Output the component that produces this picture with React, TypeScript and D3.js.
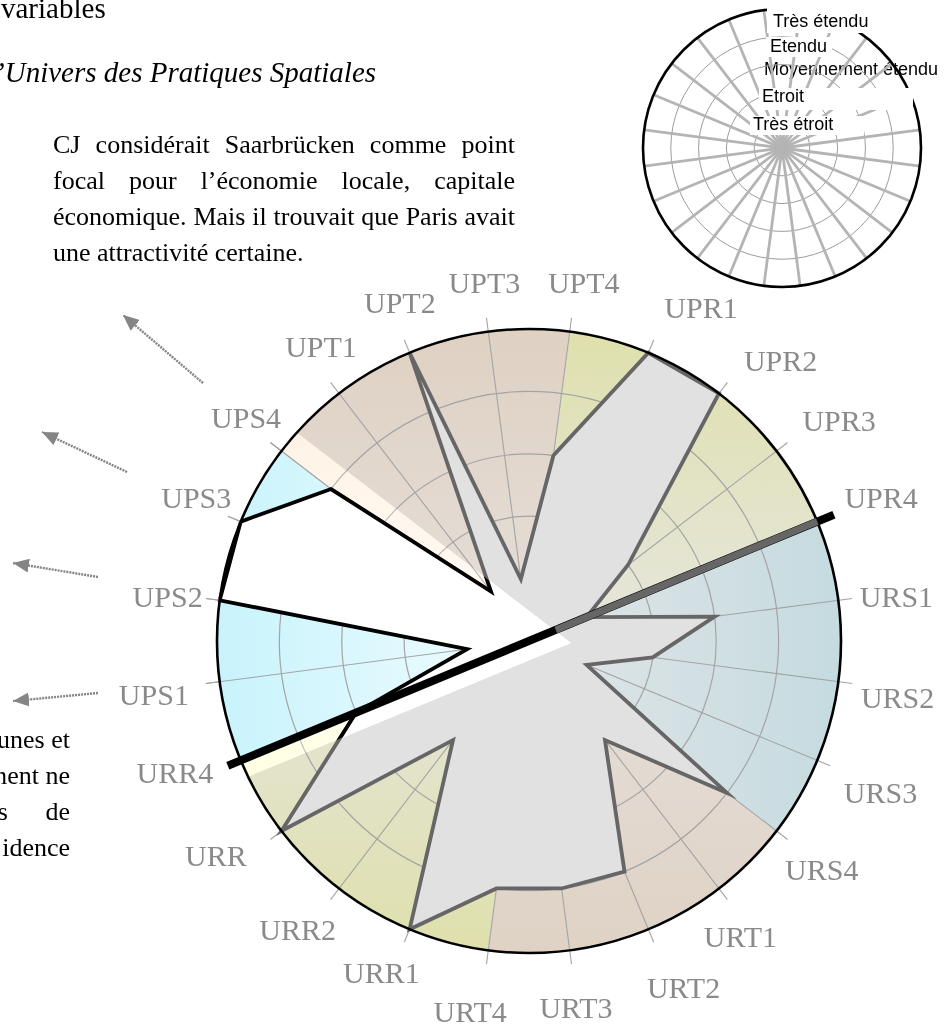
import { useEffect, useRef } from 'react'
import * as d3 from 'd3'

// radar axes, clockwise starting from UPT1
const categories = [
  'UPT1', 'UPT2', 'UPT3', 'UPT4',
  'UPR1', 'UPR2', 'UPR3', 'UPR4',
  'URS1', 'URS2', 'URS3', 'URS4',
  'URT1', 'URT2', 'URT3', 'URT4',
  'URR1', 'URR2', 'URR', 'URR4',
  'UPS1', 'UPS2', 'UPS3', 'UPS4',
]
// 1 = très étroit ... 5 = très étendu
const values = [
  1, 5, 1, 3,
  5, 5, 2, 1,
  3, 2, 1, 4,
  2, 4, 4, 4,
  5, 2, 5, 3,
  1, 5, 5, 4,
]
const groups = ['UPT', 'UPR', 'URS', 'URT', 'URR', 'UPS']
const levels = ['Très étroit', 'Etroit', 'Moyennement étendu', 'Etendu', 'Très étendu']

const headingLines = ['variables', 'l’Univers des Pratiques Spatiales']
const noteLines = [
  'CJ considérait Saarbrücken comme point',
  'focal pour l’économie locale, capitale',
  'économique. Mais il trouvait que Paris avait',
  'une attractivité certaine.',
]
const sideLines = ['unes et', 'ment ne', 's de', 'idence']

// ---- layout / styles ----
const W = 951
const H = 1027
const cx = 529
const cy = 641
const R = 312
const firstAngle = -37.5
const step = 15
const shift = [42, 2] // the UPS layer is pasted slightly off-centre
const serif = "'Liberation Serif', 'Times New Roman', serif"
const sans = "'Liberation Sans', Arial, sans-serif"

// gradient per sector: [near centre, outer edge, direction in deg]
const groupFill = {
  UPT: ['#e5dfda', '#dfd1c3', 0],
  UPR: ['#e6e6de', '#dfe0ac', 0],
  URS: ['#e1e5e6', '#c5dbe0', 90],
  URT: ['#e5dfda', '#dfd2c5', 180],
  URR: ['#e5e5dc', '#dfe0ac', 180],
  UPS: ['#f2fdff', '#c8f3fc', 270],
}
// label placement: [angle nudge (deg), radius]
const labelPlace = [
  [2.2, 360], [1.6, 362], [0.4, 361], [1.2, 362],
  [4.8, 375], [4.5, 376], [2.2, 380], [0.4, 380],
  [0.7, 370], [1.3, 373], [0.9, 383], [0.6, 372],
  [2.0, 364], [-1.5, 380], [0.2, 370], [1.5, 376],
  [1.5, 363], [1.2, 370], [3.0, 380], [2.0, 378],
  [-0.7, 379], [-0.6, 364], [0.7, 362], [0.7, 360],
]
// legend (small reference circle, top right)
const legend = { x: 782, y: 148, r: 139 }
const legendText = [
  { x: 753, y: 130, box: [750, 116, 114, 19] },
  { x: 762, y: 102, box: [759, 88, 154, 22] },
  { x: 764, y: 75, box: null },
  { x: 770, y: 52, box: [766, 37, 66, 20] },
  { x: 773, y: 27, box: [767, 6, 107, 27] },
]
const arrows = [
  [[203, 383], [123, 315]],
  [[127, 472], [42, 432]],
  [[98, 577], [13, 563]],
  [[98, 693], [13, 701]],
]

function draw(svgEl) {
  const svg = d3.select(svgEl)
  svg.selectAll('*').remove()
  const defs = svg.append('defs')

  const rad = (d) => (d * Math.PI) / 180
  const angleOf = (i) => rad(firstAngle + step * i)
  const rScale = d3.scaleLinear().domain([0, levels.length]).range([0, R])
  const at = (a, r, ox = cx, oy = cy) => [ox + r * Math.sin(a), oy - r * Math.cos(a)]
  const wedge = d3.arc().innerRadius(0).outerRadius(R)
  const centre = `translate(${cx},${cy})`

  const chart = svg.append('g')

  // coloured sectors, one per group (gradient coords are local to the translated sector)
  groups.forEach((g, gi) => {
    const a0 = angleOf(gi * 4) - rad(step)
    const a1 = angleOf(gi * 4 + 3)
    const [inner, outer, dir] = groupFill[g]
    const [x2, y2] = at(rad(dir), R, 0, 0)
    const grad = defs.append('linearGradient')
      .attr('id', `fill-${g}`)
      .attr('gradientUnits', 'userSpaceOnUse')
      .attr('x1', 0).attr('y1', 0).attr('x2', x2).attr('y2', y2)
    grad.append('stop').attr('offset', '0%').attr('stop-color', inner)
    grad.append('stop').attr('offset', '100%').attr('stop-color', outer)
    chart.append('path')
      .attr('transform', centre)
      .attr('d', wedge({ startAngle: a0, endAngle: a1 }))
      .attr('fill', `url(#fill-${g})`)
  })

  // grid
  const grid = chart.append('g').attr('stroke', '#a4a4a4').attr('fill', 'none')
  d3.range(1, levels.length).forEach(k => {
    grid.append('circle').attr('cx', cx).attr('cy', cy).attr('r', rScale(k)).attr('stroke-width', 1.2)
  })
  categories.forEach((c, i) => {
    const [x, y] = at(angleOf(i), R + 14)
    grid.append('line').attr('x1', cx).attr('y1', cy).attr('x2', x).attr('y2', y).attr('stroke-width', 1.1)
  })

  // profile polygon
  const radial = d3.lineRadial()
    .angle((d, i) => angleOf(i))
    .radius(d => rScale(d))
    .curve(d3.curveLinearClosed)
  chart.append('path')
    .attr('transform', centre)
    .attr('d', radial(values))
    .attr('fill', '#e1e1e1')
    .attr('stroke', '#666')
    .attr('stroke-width', 3.8)
    .attr('stroke-linejoin', 'miter')
    .attr('stroke-miterlimit', 12)

  // the UPS layer, pasted slightly to the right
  const ox = cx + shift[0]
  const oy = cy + shift[1]
  const u0 = angleOf(20) - rad(step)
  const u1 = angleOf(23)
  function hit(a) {
    const dx = Math.sin(a), dy = -Math.cos(a)
    const fx = ox - cx, fy = oy - cy
    const b = dx * fx + dy * fy
    const c = fx * fx + fy * fy - R * R
    const t = -b + Math.sqrt(b * b - c)
    return [ox + t * dx, oy + t * dy]
  }
  const layerPath = `M${ox},${oy}L${hit(u0)}A${R},${R} 0 0 1 ${hit(u1)}Z`
  defs.append('clipPath').attr('id', 'ups-clip').append('path').attr('d', layerPath)

  chart.append('path')
    .attr('d', layerPath)
    .attr('fill', '#1e1e1e')
    .style('mix-blend-mode', 'color-dodge')

  chart.append('path')
    .attr('transform', centre)
    .attr('d', wedge({ startAngle: u0, endAngle: u1 }))
    .attr('fill', 'url(#fill-UPS)')
  const upsGrid = chart.append('g').attr('stroke', '#a4a4a4').attr('fill', 'none')
  d3.range(1, levels.length).forEach(k => {
    const p = d3.path()
    p.arc(cx, cy, rScale(k), u0 - Math.PI / 2, u1 - Math.PI / 2)
    upsGrid.append('path').attr('d', p.toString()).attr('stroke-width', 1.2)
  })
  d3.range(20, 24).forEach(i => {
    const [x, y] = at(angleOf(i), R + 14)
    upsGrid.append('line').attr('x1', cx).attr('y1', cy).attr('x2', x).attr('y2', y).attr('stroke-width', 1.1)
  })
  chart.append('g')
    .attr('clip-path', 'url(#ups-clip)')
    .append('path')
    .attr('transform', centre)
    .attr('d', radial(values))
    .attr('fill', '#fff')
    .attr('stroke', '#000')
    .attr('stroke-width', 3.8)
    .attr('stroke-linejoin', 'miter')
    .attr('stroke-miterlimit', 12)

  // rim
  chart.append('circle')
    .attr('cx', cx).attr('cy', cy).attr('r', R)
    .attr('fill', 'none').attr('stroke', '#000').attr('stroke-width', 2.6)

  // dividing line UPR4 / URR4
  const [lx1, ly1] = at(angleOf(19), R + 14)
  const [lx2, ly2] = at(angleOf(7), R + 18)
  chart.append('line')
    .attr('x1', lx1).attr('y1', ly1).attr('x2', lx2).attr('y2', ly2)
    .attr('stroke', '#000').attr('stroke-width', 8)
  const [gx1, gy1] = at(angleOf(7), 29)
  const [gx2, gy2] = at(angleOf(7), R)
  chart.append('line')
    .attr('x1', gx1).attr('y1', gy1).attr('x2', gx2).attr('y2', gy2)
    .attr('stroke', '#666').attr('stroke-width', 7)

  // axis labels
  chart.append('g')
    .selectAll('text')
    .data(categories)
    .join('text')
    .attr('x', (d, i) => at(angleOf(i) + rad(labelPlace[i][0]), labelPlace[i][1])[0])
    .attr('y', (d, i) => at(angleOf(i) + rad(labelPlace[i][0]), labelPlace[i][1])[1])
    .attr('dy', '0.33em')
    .attr('text-anchor', 'middle')
    .attr('font-family', serif)
    .attr('font-size', 30)
    .attr('fill', '#8a8a8a')
    .text(d => d)

  // ---- surrounding document text ----
  const doc = svg.append('g').attr('font-family', serif).attr('fill', '#000')
  doc.append('text').attr('x', 1).attr('y', 18).attr('font-size', 29).text(headingLines[0])
  doc.append('text').attr('x', -13).attr('y', 82).attr('font-size', 29)
    .attr('font-style', 'italic').text(headingLines[1])

  const noteWidth = 462
  noteLines.forEach((line, i) => {
    const t = doc.append('text').attr('x', 53).attr('y', 153 + 36 * i).attr('font-size', 26).text(line)
    if (i < noteLines.length - 1) {
      const w = t.node().getComputedTextLength()
      const gaps = line.split(' ').length - 1
      t.style('word-spacing', `${(noteWidth - w) / gaps}px`)
    }
  })
  sideLines.forEach((line, i) => {
    doc.append('text')
      .attr('x', 70).attr('y', 748 + 36 * i)
      .attr('font-size', 26)
      .attr('text-anchor', 'end')
      .style('word-spacing', i === 2 ? '31px' : '0px')
      .text(line)
  })

  // dotted arrows
  defs.append('marker')
    .attr('id', 'head')
    .attr('markerUnits', 'userSpaceOnUse')
    .attr('viewBox', '0 0 16 14')
    .attr('markerWidth', 16).attr('markerHeight', 14)
    .attr('refX', 16).attr('refY', 7)
    .attr('orient', 'auto')
    .append('path').attr('d', 'M0,0L16,7L0,14Z').attr('fill', '#858585')
  arrows.forEach(([from, to]) => {
    svg.append('line')
      .attr('x1', from[0]).attr('y1', from[1]).attr('x2', to[0]).attr('y2', to[1])
      .attr('stroke', '#858585').attr('stroke-width', 2.4)
      .attr('stroke-dasharray', '2,1')
      .attr('marker-end', 'url(#head)')
  })

  // ---- legend ----
  const lg = svg.append('g')
  const lScale = d3.scaleLinear().domain([0, levels.length]).range([0, legend.r])
  const lat = (a, r) => at(a, r, legend.x, legend.y)
  lg.append('text')
    .attr('x', legendText[2].x).attr('y', legendText[2].y)
    .attr('font-family', sans).attr('font-size', 18)
    .text(levels[2])
  d3.range(1, levels.length).forEach(k => {
    lg.append('circle').attr('cx', legend.x).attr('cy', legend.y).attr('r', lScale(k))
      .attr('fill', 'none').attr('stroke', '#9c9c9c').attr('stroke-width', 1)
  })
  categories.forEach((c, i) => {
    const [x, y] = lat(angleOf(i), legend.r)
    lg.append('line').attr('x1', legend.x).attr('y1', legend.y).attr('x2', x).attr('y2', y)
      .attr('stroke', '#b4b4b4').attr('stroke-width', 2.8)
  })
  lg.append('circle').attr('cx', legend.x).attr('cy', legend.y).attr('r', legend.r)
    .attr('fill', 'none').attr('stroke', '#000').attr('stroke-width', 2.6)
  levels.forEach((lv, k) => {
    if (k === 2) return
    const place = legendText[k]
    if (place.box) {
      lg.append('rect')
        .attr('x', place.box[0]).attr('y', place.box[1])
        .attr('width', place.box[2]).attr('height', place.box[3])
        .attr('fill', '#fff')
    }
    lg.append('text')
      .attr('x', place.x).attr('y', place.y)
      .attr('font-family', sans).attr('font-size', 18)
      .text(lv)
  })
}

export default function App() {
  const ref = useRef(null)
  useEffect(() => {
    draw(ref.current)
  }, [])
  return (
    <svg
      ref={ref}
      width={W}
      height={H}
      style={{ position: 'absolute', left: 0, top: 0, background: '#fff' }}
    />
  )
}
